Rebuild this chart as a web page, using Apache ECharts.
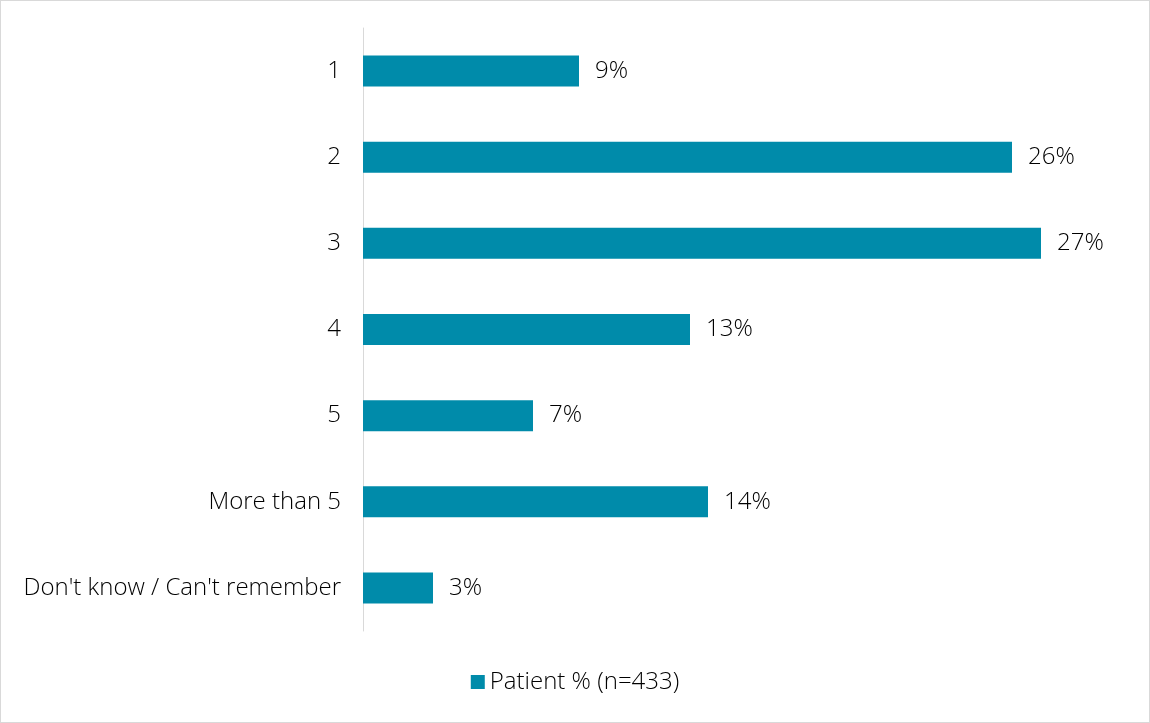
<!DOCTYPE html>
<html>
<head>
<meta charset="UTF-8">
<title>Patient %</title>
<script src="https://cdn.jsdelivr.net/npm/echarts@6/dist/echarts.min.js"></script>
<style>
	html, body { margin: 0; padding: 0; background: #fff; }
	#container { width: 1148px; height: 721px; border: 1px solid #d9d9d9; }
</style>
</head>
<body>
	<div id="container"></div>
	<script type="text/javascript">
		// categories top to bottom
		var categories = ['1', '2', '3', '4', '5', 'More than 5', "Don't know / Can't remember"];
		// percent values
		var values = [8.64, 25.96, 27.12, 13.08, 6.8, 13.8, 2.8];
		var seriesName = 'Patient % (n=433)';

		var dom = document.getElementById("container");
		var myChart = echarts.init(dom);
		var fontFam = '"Open Sans", "Noto Sans", sans-serif';
		var fontSz = 24;

		var option = {
			animation : false,
			grid : {
				left : 362,
				top : 27,
				width : 750,
				height : 603
			},
			legend : {
				bottom : 23,
				left : 'center',
				itemWidth : 14,
				itemHeight : 14,
				itemGap : 6,
				icon : 'rect',
				textStyle : {
					fontSize : fontSz,
					fontWeight : 300,
					color : '#000',
					fontFamily : fontFam
				},
				data : [ seriesName ]
			},
			xAxis : {
				type : 'value',
				min : 0,
				max : 30,
				show : false
			},
			yAxis : {
				type : 'category',
				inverse : true,
				data : categories,
				axisLine : {
					lineStyle : { color : '#d9d9d9', width : 1 }
				},
				axisTick : { show : false },
				axisLabel : {
					fontSize : fontSz,
					fontWeight : 300,
					color : '#000',
					margin : 22,
					fontFamily : fontFam
				}
			},
			series : [ {
				name : seriesName,
				type : 'bar',
				data : values,
				barWidth : 31,
				itemStyle : { color : '#008BAA' },
				label : {
					show : true,
					position : 'right',
					distance : 16,
					fontSize : fontSz,
					fontWeight : 300,
					color : '#000',
					fontFamily : fontFam,
					formatter : function(p) {
						return Math.round(p.value) + '%';
					}
				}
			} ]
		};

		myChart.setOption(option, true);
	</script>
</body>
</html>
